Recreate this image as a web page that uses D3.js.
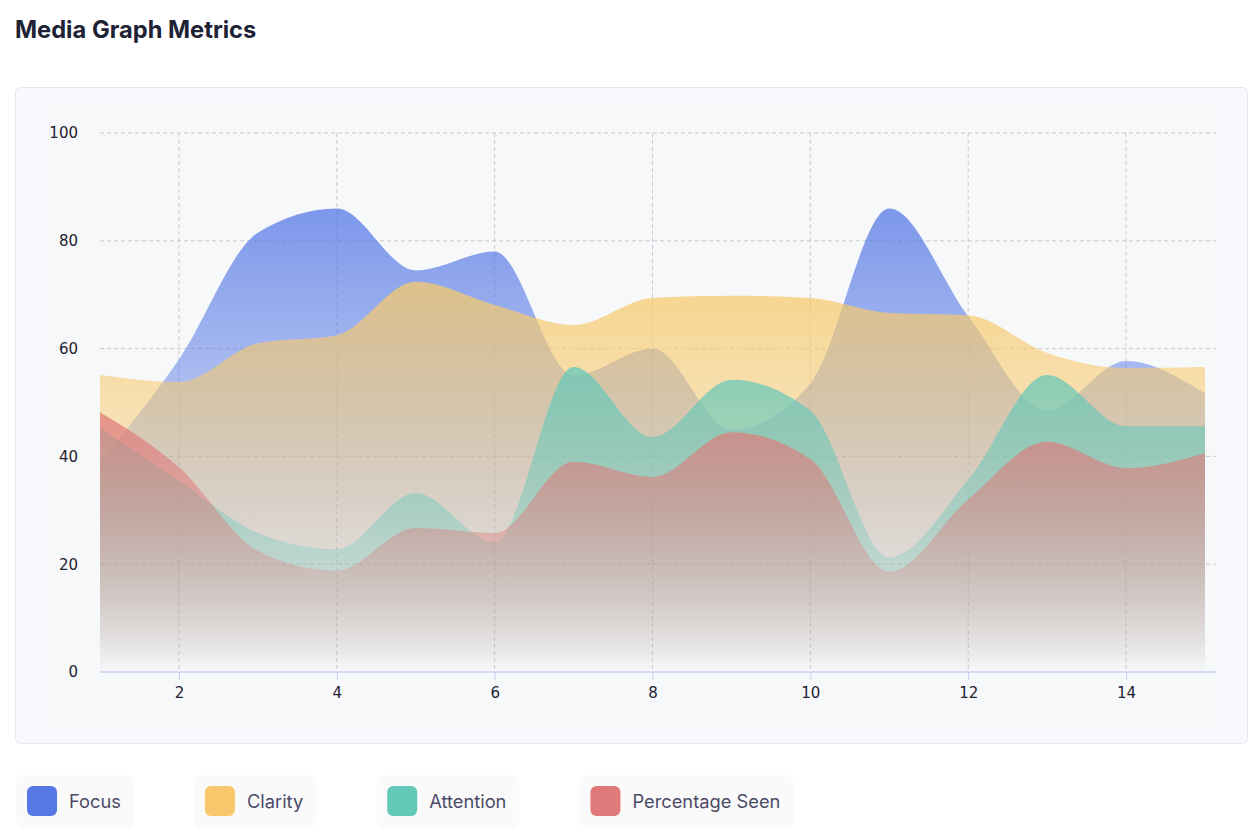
<!DOCTYPE html>
<html>
<head>
<meta charset="utf-8">
<script src="https://cdn.jsdelivr.net/npm/d3@7/dist/d3.min.js"></script>
<style>
  html, body { margin: 0; padding: 0; background: #ffffff; }
  body { width: 1260px; height: 840px; overflow: hidden; }
  #chart-area { position: absolute; left: 0; top: 0; }
  .tick text { font-family: "DejaVu Sans", sans-serif; font-size: 15px; fill: #1f2233; }
</style>
</head>
<body>
<div id="chart-area"></div>
<script>
/*
*    Media graph metrics - overlapping smooth area chart
*/

var steps = [1, 2, 3, 4, 5, 6, 7, 8, 9, 10, 11, 12, 13, 14, 15];
var focus      = [39, 58, 81.5, 86, 74.5, 78, 55, 60, 45, 53.5, 86, 66, 48.5, 57.7, 51.7];
var clarity    = [55.1, 53.8, 61, 62.5, 72.4, 68.1, 64.4, 69.4, 69.8, 69.4, 66.6, 66.2, 59.2, 56.4, 56.6];
var attention  = [45.3, 35.5, 25.8, 22.8, 33.2, 24.1, 56.6, 43.6, 54.2, 48.5, 21.3, 35.6, 55.1, 45.6, 45.6];
var pctSeen    = [48.2, 38, 22.5, 18.8, 26.7, 25.8, 39, 36.2, 44.5, 39.5, 18.6, 32, 42.7, 37.8, 40.6];

var seriesNames = ["Focus", "Clarity", "Attention", "Percentage Seen"];
var seriesColors = ["#5679e6", "#f7c96c", "#64c8b9", "#e07a7a"];
var xTicks = [2, 4, 6, 8, 10, 12, 14];
var yTicks = [0, 20, 40, 60, 80, 100];

var seriesData = [focus, clarity, attention, pctSeen];

var svg = d3.select("#chart-area")
    .append("svg")
        .attr("width", 1260)
        .attr("height", 840);

// page title
svg.append("text")
    .attr("x", 15)
    .attr("y", 38)
    .style("font-family", "Inter, sans-serif")
    .style("font-weight", 700)
    .style("font-size", "23.7px")
    .style("fill", "#1d2235")
    .text("Media Graph Metrics");

// card
svg.append("rect")
    .attr("x", 15.5).attr("y", 87.5)
    .attr("width", 1232).attr("height", 656)
    .attr("rx", 5)
    .attr("fill", "#f8f9fd")
    .attr("stroke", "#e6e8ef");

svg.append("rect")
    .attr("x", 46).attr("y", 103)
    .attr("width", 1170).attr("height", 625)
    .attr("fill", "#f7f8f9");

var margin = { left: 100, top: 133 };
var width = 1105, height = 539, overhang = 11;

var g = svg.append("g")
    .attr("transform", "translate(" + margin.left + "," + margin.top + ")");

var x = d3.scaleLinear()
    .domain([1, 15])
    .range([0, width]);

var y = d3.scaleLinear()
    .domain([0, 100])
    .range([height, 0]);

// grid
g.selectAll(".hgrid")
    .data(yTicks.filter(function(d){ return d > 0; }))
  .enter().append("line")
    .attr("class", "hgrid")
    .attr("x1", 0)
    .attr("x2", width + overhang)
    .attr("y1", function(d){ return y(d); })
    .attr("y2", function(d){ return y(d); })
    .attr("stroke", "#c9cacf")
    .attr("stroke-dasharray", "4,3");

g.selectAll(".vgrid")
    .data(xTicks)
  .enter().append("line")
    .attr("class", "vgrid")
    .attr("x1", function(d){ return x(d); })
    .attr("x2", function(d){ return x(d); })
    .attr("y1", 0)
    .attr("y2", height)
    .attr("stroke", "#c9cacf")
    .attr("stroke-dasharray", "4,3");

// gradients
var defs = svg.append("defs");
seriesColors.forEach(function(c, i){
    var grad = defs.append("linearGradient")
        .attr("id", "grad" + i)
        .attr("x1", 0).attr("y1", 0)
        .attr("x2", 0).attr("y2", 1);
    grad.append("stop").attr("offset", "0%").attr("stop-color", c).attr("stop-opacity", 0.76);
    grad.append("stop").attr("offset", "100%").attr("stop-color", c).attr("stop-opacity", 0.0);
});

var area = d3.area()
    .x(function(d, i){ return x(steps[i]); })
    .y0(y(0))
    .y1(function(d){ return y(d); })
    .curve(d3.curveMonotoneX);

g.selectAll(".area")
    .data(seriesData)
  .enter().append("path")
    .attr("class", "area")
    .attr("d", area)
    .attr("fill", function(d, i){ return "url(#grad" + i + ")"; });

// axes
var xAxis = d3.axisBottom(x)
    .tickValues(xTicks)
    .tickSize(8)
    .tickSizeOuter(0)
    .tickPadding(7);

var xg = g.append("g")
    .attr("transform", "translate(0," + height + ")")
    .call(xAxis);
xg.select(".domain").remove();
xg.selectAll("line").attr("stroke", "#c6d0ec");

g.append("line")
    .attr("x1", 0)
    .attr("x2", width + overhang)
    .attr("y1", height)
    .attr("y2", height)
    .attr("stroke", "#c6d0ec")
    .attr("stroke-width", 1.5);

var yAxis = d3.axisLeft(y)
    .tickValues(yTicks)
    .tickSize(0)
    .tickPadding(22);

var yg = g.append("g").call(yAxis);
yg.select(".domain").remove();

// legend
var legend = svg.append("g").attr("transform", "translate(16,775)");
var lx = 0;
seriesNames.forEach(function(name, i){
    var item = legend.append("g").attr("transform", "translate(" + lx + ",0)");
    var box = item.append("rect")
        .attr("height", 53)
        .attr("rx", 8)
        .attr("fill", "#fafafb");
    item.append("rect")
        .attr("x", 11).attr("y", 11)
        .attr("width", 30).attr("height", 30)
        .attr("rx", 6)
        .attr("fill", seriesColors[i]);
    var t = item.append("text")
        .attr("x", 53)
        .attr("y", 33)
        .style("font-family", "Inter, sans-serif")
        .style("font-size", "18.3px")
        .style("fill", "#4b4a66")
        .text(name);
    var w = 53 + t.node().getComputedTextLength() + 13;
    box.attr("width", w);
    lx += w + 60;
});
</script>
</body>
</html>
